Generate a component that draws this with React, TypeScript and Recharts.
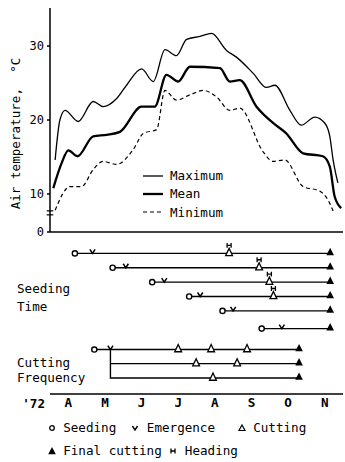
import {
  ComposedChart,
  LineChart,
  Line,
  Scatter,
  XAxis,
  YAxis,
  ReferenceLine,
  Legend,
  Label,
} from "recharts";

const MONO = "'DejaVu Sans Mono', 'Liberation Mono', monospace";
const INK = "#000";

// x = months after 1 April 1972 (0 = Apr 1, 8 = Dec 1)
const MONTH_LABELS = ["A", "M", "J", "J", "A", "S", "O", "N"];
const MONTH_EDGES = [0, 1, 2, 3, 4, 5, 6, 7, 8];
const MONTH_MIDS = [0.5, 1.5, 2.5, 3.5, 4.5, 5.5, 6.5, 7.5];

// air temperature, °C
const maxMonth = [0.14, 0.27, 0.41, 0.77, 1.18, 1.45, 1.82, 2.09, 2.5, 2.82, 3.14, 3.45, 3.73, 4.09, 4.41, 4.82, 5.09, 5.55, 5.91, 6.14, 6.55, 6.86, 7.23, 7.5, 7.64, 7.73, 7.86];
const maxTemp = [14.6, 20.0, 21.3, 19.8, 22.5, 21.8, 22.9, 24.7, 26.9, 25.2, 29.5, 28.7, 30.9, 31.3, 31.7, 29.4, 28.5, 26.3, 24.4, 24.7, 21.3, 19.3, 20.4, 19.6, 17.8, 14.6, 11.5];

const meanMonth = [0.09, 0.32, 0.5, 0.75, 1.18, 1.55, 1.91, 2.5, 2.86, 3.18, 3.5, 3.82, 4.64, 4.91, 5.18, 5.64, 6.09, 6.45, 6.91, 7.45, 7.64, 7.77, 7.95];
const meanTemp = [10.8, 14.2, 15.9, 15.1, 17.8, 18.0, 18.4, 21.8, 21.8, 26.1, 25.2, 27.2, 27.0, 25.2, 25.4, 21.8, 19.6, 18.2, 15.5, 15.1, 13.7, 9.7, 8.1];

const minMonth = [0.14, 0.55, 0.86, 1.18, 1.45, 1.82, 2.27, 2.55, 2.91, 3.14, 3.45, 3.82, 4.18, 4.55, 4.91, 5.18, 5.82, 6.09, 6.41, 6.91, 7.36, 7.59, 7.73];
const minTemp = [7.8, 11.0, 11.0, 13.3, 14.4, 14.0, 16.0, 18.2, 18.7, 24.0, 22.7, 23.4, 24.0, 23.1, 21.3, 21.6, 15.7, 14.4, 14.6, 11.0, 10.4, 9.2, 7.7];

// the temperature axis is broken: its lowest tick stands for 0
const TEMP_DOMAIN = [4.86, 35.14];
const TEMP_TICKS = [4.86, 10, 20, 30];
const BREAK_AT = [7.72, 7.18];

// seeding-time trials
const sowDates = [0.68, 1.71, 2.79, 3.8, 4.71, 5.78];
const emergeDates = [1.16, 2.07, 3.12, 4.1, 5.0, 6.33];
const headCutDates = [4.89, 5.71, 5.99, 6.1, null, null];
const seedFinal = 7.65;
const seedRowPos = [1, 2, 3, 4, 5, 6.23];

// cutting-frequency trials
const freqSow = 1.21;
const freqEmerge = 1.65;
const freqCuts = [[3.5, 4.4, 5.38], [3.99, 5.11], [4.45]];
const freqFinal = 6.8;
const freqRowPos = [7.69, 8.67, 9.67];

const SECTION_TEXT = ["Seeding", "Time", "Cutting", "Frequency"];
const SECTION_POS = [3.48, 4.72, 8.62, 9.62];

const toPoints = (xs: number[], ys: number[]) => xs.map((m, i) => ({ m, v: ys[i] }));
const maxData = toPoints(maxMonth, maxTemp);
const meanData = toPoints(meanMonth, meanTemp);
const minData = toPoints(minMonth, minTemp);

const TEMP_SERIES = [
  { name: "Maximum", data: maxData, width: 1.3, dash: undefined },
  { name: "Mean", data: meanData, width: 2.3, dash: undefined },
  { name: "Minimum", data: minData, width: 1.2, dash: "4 3" },
];

const seedRows = sowDates.map((s, i) => {
  const pts: any[] = [
    { x: s, y: seedRowPos[i], kind: "sow" },
    { x: emergeDates[i], y: seedRowPos[i], kind: "emerge" },
  ];
  if (headCutDates[i] != null) pts.push({ x: headCutDates[i], y: seedRowPos[i], kind: "head" });
  pts.push({ x: seedFinal, y: seedRowPos[i], kind: "final" });
  return pts;
});

const freqRows = freqCuts.map((cuts, i) => {
  const y = freqRowPos[i];
  let start: any[];
  if (i === 0) {
    start = [
      { x: freqSow, y, kind: "sow" },
      { x: freqEmerge, y, kind: "emerge" },
    ];
  } else if (i === freqCuts.length - 1) {
    // bracket: vertical line down from the first row
    start = [
      { x: freqEmerge, y: freqRowPos[0], kind: "none" },
      { x: freqEmerge, y, kind: "none" },
    ];
  } else {
    start = [{ x: freqEmerge, y, kind: "none" }];
  }
  return [
    ...start,
    ...cuts.map((c) => ({ x: c, y, kind: "cut" })),
    { x: freqFinal, y, kind: "final" },
  ];
});

// anchors the month-label axis to the same 0..8 scale
const monthAnchors = MONTH_MIDS.map((x) => ({ x, y: 0, kind: "none" }));

const openTri = (cx: number, cy: number) =>
  `M${cx},${cy - 5} L${cx + 3.4},${cy + 2.2} L${cx - 3.4},${cy + 2.2} Z`;
const solidTri = (cx: number, cy: number) =>
  `M${cx},${cy - 5.6} L${cx + 3.8},${cy + 1.8} L${cx - 3.8},${cy + 1.8} Z`;
const vee = (cx: number, cy: number) =>
  `M${cx - 2.6},${cy - 4} L${cx},${cy} L${cx + 2.6},${cy - 4}`;
const headH = (cx: number, cy: number) =>
  `M${cx - 2},${cy - 2.4} L${cx - 2},${cy + 2.4} M${cx + 2},${cy - 2.4} L${cx + 2},${cy + 2.4} M${cx - 2},${cy} L${cx + 2},${cy}`;

const Marker = (props: any) => {
  const { cx, cy, payload } = props;
  switch (payload.kind) {
    case "sow":
      return <circle cx={cx} cy={cy} r={2.6} fill="#fff" stroke={INK} strokeWidth={1.4} />;
    case "emerge":
      return <path d={vee(cx, cy)} fill="none" stroke={INK} strokeWidth={1.5} />;
    case "cut":
      return <path d={openTri(cx, cy)} fill="#fff" stroke={INK} strokeWidth={1.3} />;
    case "head":
      return (
        <g>
          <path d={openTri(cx, cy)} fill="#fff" stroke={INK} strokeWidth={1.3} />
          <path d={headH(cx, cy - 8)} fill="none" stroke={INK} strokeWidth={1.3} />
        </g>
      );
    case "final":
      return <path d={solidTri(cx, cy)} fill={INK} />;
    default:
      return <g />;
  }
};

const TempLegend = () => (
  <div style={{ fontFamily: MONO, fontSize: 12.6, color: INK }}>
    {TEMP_SERIES.map((s) => (
      <div key={s.name} style={{ height: 18.3, display: "flex", alignItems: "center" }}>
        <svg width={30} height={10}>
          <line x1={3} x2={23} y1={5} y2={5} stroke={INK} strokeWidth={s.width} strokeDasharray={s.dash} />
        </svg>
        <span>{s.name}</span>
      </div>
    ))}
  </div>
);

const LEGEND_ITEMS = [
  { kind: "sow", label: "Seeding", x: 51.8, row: 0 },
  { kind: "emerge", label: "Emergence", x: 135.4, row: 0 },
  { kind: "cut", label: "Cutting", x: 241.8, row: 0 },
  { kind: "final", label: "Final cutting", x: 51.8, row: 1 },
  { kind: "headOnly", label: "Heading", x: 173.4, row: 1 },
];

const LegendIcon = ({ kind }: { kind: string }) => {
  const c = 6;
  let el;
  if (kind === "sow") el = <circle cx={c} cy={c} r={2.3} fill="#fff" stroke={INK} strokeWidth={1.3} />;
  else if (kind === "emerge") el = <path d={vee(c, c + 2)} fill="none" stroke={INK} strokeWidth={1.4} />;
  else if (kind === "cut") el = <path d={`M${c},${c - 3} L${c + 3},${c + 2.5} L${c - 3},${c + 2.5} Z`} fill="#fff" stroke={INK} strokeWidth={1.2} />;
  else if (kind === "final") el = <path d={solidTri(c, c + 1.5)} fill={INK} />;
  else el = <path d={headH(c, c)} fill="none" stroke={INK} strokeWidth={1.3} />;
  return (
    <svg width={12} height={12} style={{ position: "absolute", left: -6, top: -6 }}>
      {el}
    </svg>
  );
};

const EventLegend = () => (
  <div style={{ position: "relative", width: 345, height: 48, fontFamily: MONO, fontSize: 12.6, color: INK }}>
    {LEGEND_ITEMS.map((it) => {
      const y = it.row === 0 ? 14 : 37;
      return (
        <div key={it.label}>
          <div style={{ position: "absolute", left: it.x, top: y }}>
            <LegendIcon kind={it.kind} />
          </div>
          <div style={{ position: "absolute", left: it.x + 11.4, top: y - 9, lineHeight: "18px", whiteSpace: "pre" }}>
            {it.label}
          </div>
        </div>
      );
    })}
  </div>
);

const SectionTick = (p: any) => (
  <text x={17} y={p.y} dy="0.35em" fontFamily={MONO} fontSize={12.6} fill={INK}>
    {SECTION_TEXT[p.index]}
  </text>
);

const YTitle = () => (
  <text
    x={15}
    y={133.5}
    transform="rotate(-90, 15, 133.5)"
    textAnchor="middle"
    dominantBaseline="central"
    fontFamily={MONO}
    fontSize={12.6}
    fill={INK}
    style={{ whiteSpace: "pre" }}
  >
    {"Air temperature,  °C"}
  </text>
);

export default function App() {
  return (
    <div style={{ position: "absolute", left: 0, top: 0, width: 345, height: 462, background: "#fff" }}>
      <div style={{ position: "absolute", left: 0, top: 0 }}>
        <LineChart width={345} height={244} margin={{ top: 8, right: 2, bottom: 12, left: 0 }}>
          <XAxis
            type="number"
            dataKey="m"
            domain={[0, 8]}
            ticks={MONTH_EDGES}
            interval={0}
            tick={false}
            mirror
            tickSize={3}
            stroke={INK}
            strokeWidth={1.5}
            allowDataOverflow
          />
          <YAxis
            type="number"
            domain={TEMP_DOMAIN}
            ticks={TEMP_TICKS}
            interval={0}
            tickFormatter={(v: number) => (v < 5 ? "0" : String(v))}
            width={50}
            tickSize={3}
            tickMargin={3}
            stroke={INK}
            strokeWidth={1.5}
            tick={{ fill: INK, fontSize: 12, fontFamily: MONO }}
            allowDataOverflow
          >
            <Label content={<YTitle />} />
          </YAxis>
          <ReferenceLine
            segment={[{ x: 0, y: BREAK_AT[0] }, { x: 0, y: BREAK_AT[1] }]}
            stroke="#fff"
            strokeWidth={3}
            ifOverflow="visible"
          />
          {BREAK_AT.map((b) => (
            <ReferenceLine
              key={b}
              segment={[{ x: -0.09, y: b }, { x: 0.09, y: b }]}
              stroke={INK}
              strokeWidth={1.2}
              ifOverflow="visible"
            />
          ))}
          {TEMP_SERIES.map((s) => (
            <Line
              key={s.name}
              data={s.data}
              dataKey="v"
              name={s.name}
              type="monotone"
              stroke={INK}
              strokeWidth={s.width}
              strokeDasharray={s.dash}
              dot={false}
              isAnimationActive={false}
            />
          ))}
          <Legend
            content={<TempLegend />}
            layout="vertical"
            align="center"
            verticalAlign="middle"
            wrapperStyle={{ left: 140, top: 166.5, width: 110, height: 56 }}
          />
        </LineChart>
      </div>
      <div style={{ position: "absolute", left: 0, top: 232 }}>
        <ComposedChart width={345} height={230} margin={{ top: 7, right: 2, bottom: 0, left: 0 }}>
          <XAxis
            xAxisId="edge"
            type="number"
            dataKey="x"
            domain={[0, 8]}
            ticks={MONTH_EDGES}
            interval={0}
            tick={false}
            mirror
            tickSize={3}
            stroke={INK}
            strokeWidth={1.5}
          />
          <XAxis
            xAxisId="mon"
            type="number"
            dataKey="x"
            domain={[0, 8]}
            ticks={MONTH_MIDS}
            interval={0}
            tickFormatter={(v: number) => MONTH_LABELS[Math.floor(v)]}
            tickLine={false}
            axisLine={false}
            tickSize={0}
            tickMargin={4}
            height={20}
            tick={{ fill: INK, fontSize: 12.6, fontFamily: MONO, fontWeight: 700 }}
          >
            <Label value="'72" position="left" offset={5} fill={INK} fontSize={12.6} fontFamily={MONO} fontWeight={700} />
          </XAxis>
          <YAxis
            type="number"
            dataKey="y"
            domain={[0, 10.78]}
            reversed
            ticks={SECTION_POS}
            interval={0}
            width={50}
            tick={<SectionTick />}
            tickLine={false}
            axisLine={false}
          />
          <Scatter
            xAxisId="mon"
            data={monthAnchors}
            shape={<Marker />}
            isAnimationActive={false}
          />
          {[...seedRows, ...freqRows].map((pts, i) => (
            <Scatter
              key={i}
              xAxisId="edge"
              data={pts}
              line={{ stroke: INK, strokeWidth: 1.4 }}
              lineType="joint"
              shape={<Marker />}
              isAnimationActive={false}
            />
          ))}
          <Legend
            content={<EventLegend />}
            verticalAlign="bottom"
            align="left"
            height={48}
            wrapperStyle={{ left: 0, bottom: 0, width: 345, height: 48 }}
          />
        </ComposedChart>
      </div>
    </div>
  );
}
